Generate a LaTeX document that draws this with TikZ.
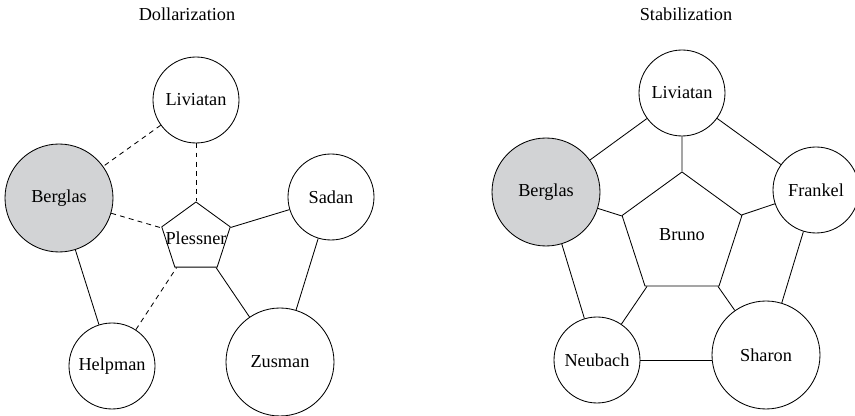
\documentclass[tikz,border=0pt]{standalone}
\usepackage{fontspec}
\setmainfont{Liberation Serif}
\usepackage{xcolor}
\usetikzlibrary{shapes.geometric, positioning}

\definecolor{bergfill}{RGB}{210,211,213}

\begin{document}
\begin{tikzpicture}[
    person_node/.style={
        circle,
        draw=black,
        line width=0.6pt,
        fill=white,
        inner sep=0pt,
        minimum size=2.15cm,
        font=\fontsize{13}{15}\selectfont
    },
    big_node/.style={
        person_node,
        minimum size=2.7cm
    },
    core_node/.style={
        regular polygon,
        regular polygon sides=5,
        draw=black,
        line width=0.6pt,
        inner sep=0pt,
        font=\fontsize{13}{15}\selectfont
    },
    title_node/.style={font=\fontsize{13}{15}\selectfont},
    tie/.style={line width=0.6pt, black},
    weak_tie/.style={tie, dash pattern=on 3.5pt off 3pt}
]
    \useasboundingbox (0,0) rectangle (21.375,-10.4);

    % Dollarization
    \node[title_node] (dtitle) at (4.675, -0.35) {Dollarization};

    \node[person_node] (dliv) at (4.9, -2.5) {Liviatan};
    \node[big_node, fill=bergfill] (dberg) at (1.475, -4.95) {Berglas};
    \node[person_node] (dsad) at (8.275, -4.925) {Sadan};
    \node[person_node] (dhelp) at (2.8, -9.15) {Helpman};
    \node[big_node] (dzus) at (7.0, -9.05) {Zusman};
    \node[core_node, minimum size=1.8cm] (dples) at (4.9, -5.95) {\makebox[0pt]{Plessner}};

    \draw[weak_tie] (dliv) -- (dberg);
    \draw[weak_tie] (dliv) -- (dples);
    \draw[weak_tie] (dberg) -- (dples);
    \draw[weak_tie] (dhelp) -- (dples);
    \draw[tie] (dberg) -- (dhelp);
    \draw[tie] (dples) -- (dsad);
    \draw[tie] (dples) -- (dzus);
    \draw[tie] (dsad) -- (dzus);

    % Stabilization
    \node[title_node] (stitle) at (17.15, -0.35) {Stabilization};

    \node[person_node] (sliv) at (17.05, -2.325) {Liviatan};
    \node[big_node, fill=bergfill] (sberg) at (13.65, -4.8) {Berglas};
    \node[person_node] (sfrank) at (20.4, -4.75) {Frankel};
    \node[person_node] (sneu) at (14.925, -9.0) {Neubach};
    \node[big_node] (sshar) at (19.15, -8.875) {Sharon};
    \node[core_node, minimum size=3.15cm] (sbru) at (17.05, -5.875) {Bruno};

    \draw[tie] (sliv) -- (sberg);
    \draw[tie] (sliv) -- (sfrank);
    \draw[tie] (sliv) -- (sbru);
    \draw[tie] (sberg) -- (sbru);
    \draw[tie] (sfrank) -- (sbru);
    \draw[tie] (sberg) -- (sneu);
    \draw[tie] (sfrank) -- (sshar);
    \draw[tie] (sbru) -- (sneu);
    \draw[tie] (sbru) -- (sshar);
    \draw[tie] (sneu.east) -- (sneu.east -| sshar.west);

\end{tikzpicture}
\end{document}
